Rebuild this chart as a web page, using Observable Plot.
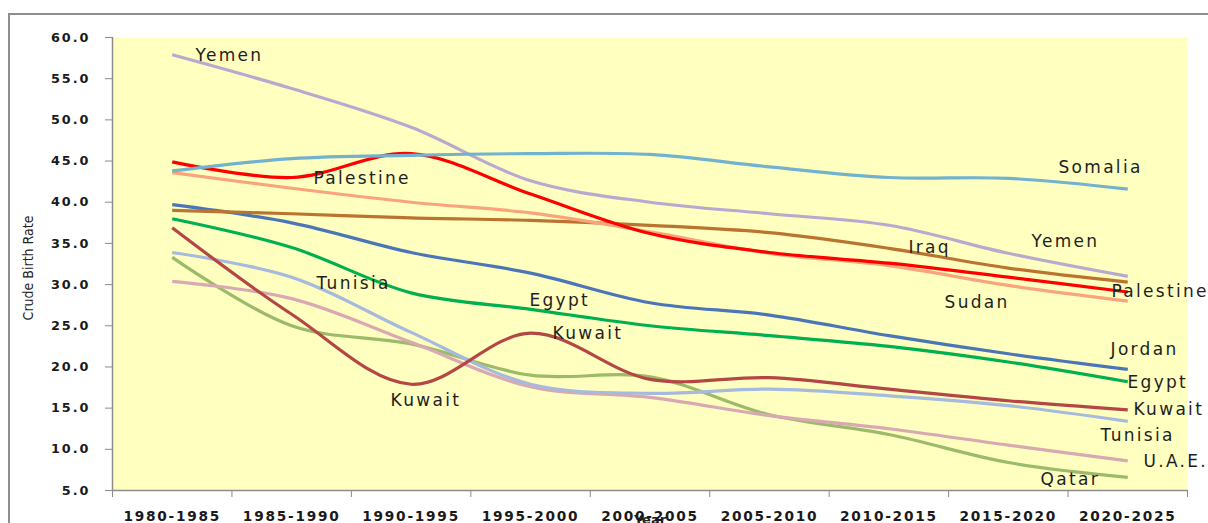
<!DOCTYPE html>
<html>
<head>
<meta charset="utf-8">
<script src="https://cdn.jsdelivr.net/npm/d3@7"></script>
<script src="https://cdn.jsdelivr.net/npm/@observablehq/plot@0.6"></script>
<style>
html, body { margin: 0; padding: 0; background: #fff; overflow: hidden; }
#wrap { position: relative; width: 1208px; height: 523px; overflow: hidden; }
#border { position: absolute; left: 8px; top: 13px; width: 1400px; height: 700px; border: 2px solid #8e8e8e; pointer-events: none; }
#chart { position: absolute; left: 0; top: 0; }
#chart svg g[aria-label="text"][font-size="17"] { letter-spacing: 2.3px; }
#chart svg g[aria-label="y-axis tick label"] { letter-spacing: 2px; }
#chart svg g[aria-label="x-axis tick label"] { letter-spacing: 1.75px; }
</style>
</head>
<body>
<div id="wrap"><div id="chart"></div><div id="border"></div></div>
<script>
// ---- data ----
const periods = ["1980-1985","1985-1990","1990-1995","1995-2000","2000-2005","2005-2010","2010-2015","2015-2020","2020-2025"];
const countries = ["Qatar","U.A.E.","Tunisia","Kuwait","Egypt","Jordan","Iraq","Sudan","Yemen","Palestine","Somalia"];

const qatar     = [33.3, 25.0, 22.8, 19.0, 18.8, 14.2, 11.8, 8.4, 6.6];
const uae       = [30.4, 28.3, 23.0, 17.6, 16.3, 14.1, 12.5, 10.5, 8.6];
const tunisia   = [33.9, 30.9, 24.2, 17.9, 16.8, 17.3, 16.5, 15.3, 13.4];
const kuwait    = [36.9, 26.4, 17.9, 24.1, 18.5, 18.7, 17.3, 15.9, 14.8];
const egypt     = [38.0, 34.5, 29.0, 27.0, 25.0, 23.8, 22.5, 20.6, 18.2];
const jordan    = [39.7, 37.5, 33.9, 31.4, 27.8, 26.3, 23.8, 21.6, 19.7];
const iraq      = [39.0, 38.6, 38.1, 37.8, 37.2, 36.3, 34.4, 32.0, 30.3];
const sudan     = [43.6, 41.7, 40.0, 38.7, 36.4, 33.8, 32.3, 29.9, 28.0];
const yemen     = [57.9, 53.8, 49.1, 42.6, 40.0, 38.6, 37.2, 33.8, 31.0];
const palestine = [44.9, 43.0, 45.9, 41.0, 36.2, 33.9, 32.6, 30.9, 29.1];
const somalia   = [43.8, 45.3, 45.7, 45.9, 45.8, 44.3, 43.0, 42.9, 41.6];

const seriesValues = [qatar, uae, tunisia, kuwait, egypt, jordan, iraq, sudan, yemen, palestine, somalia];

const yTicks = [5, 10, 15, 20, 25, 30, 35, 40, 45, 50, 55, 60];

// annotation labels: text, anchor along the period axis (index units), value
const labelText  = ["Yemen","Palestine","Tunisia","Egypt","Kuwait","Kuwait","Iraq","Yemen","Somalia","Sudan","Palestine","Jordan","Egypt","Kuwait","Tunisia","U.A.E.","Qatar"];
const labelAt    = [0.695, 1.683, 1.708, 3.491, 3.684, 2.328, 6.664, 7.694, 7.920, 6.966, 8.364, 8.356, 8.498, 8.548, 8.272, 8.632, 7.770];
const labelValue = [57.8, 42.9, 30.1, 28.1, 24.1, 15.9, 34.5, 35.2, 44.2, 27.8, 29.2, 22.1, 18.1, 14.8, 11.7, 8.5, 6.3];

// ---- build tables ----
const rows = countries.flatMap((c, k) => seriesValues[k].map((v, i) => ({country: c, i: i + 0.5, v})));
const labels = labelText.map((t, k) => ({t, x: labelAt[k], y: labelValue[k]}));
const boundaries = d3.range(periods.length + 1);
const centers = periods.map((p, i) => i + 0.5);

const lineColors = ["#9bbb6a","#d9a8b2","#a6b9de","#b44646","#00b050","#4a76b8","#bb7430","#f9a47c","#b8a9cf","#ff0000","#72b2cf"];

const chart = Plot.plot({
  width: 1208,
  height: 523,
  marginLeft: 112,
  marginRight: 21,
  marginTop: 37,
  marginBottom: 33,
  style: {background: "transparent", fontFamily: "DejaVu Sans, sans-serif"},
  x: {type: "linear", domain: [0, periods.length], axis: null},
  y: {domain: [5, 60], axis: null},
  color: {domain: countries, range: lineColors},
  marks: [
    Plot.frame({fill: "#ffffc0", stroke: null}),
    Plot.ruleX([0], {stroke: "#8c8c8c", strokeWidth: 1.5}),
    Plot.ruleY([5], {stroke: "#8c8c8c", strokeWidth: 1.5}),
    Plot.line(rows, {x: "i", y: "v", z: "country", stroke: "country", curve: "catmull-rom", strokeWidth: 3.2, strokeLinecap: "butt"}),
    Plot.text(labels, {x: "x", y: "y", text: "t", textAnchor: "start", lineAnchor: "middle", fontSize: 17, fill: "#1e1e1e", fontFamily: "DejaVu Sans, sans-serif"}),
    Plot.text(["Year"], {text: d => d, frameAnchor: "bottom", lineAnchor: "top", dy: 24, fontSize: 13, fontWeight: "bold", fill: "#222"}),
    Plot.text(["Crude Birth Rate"], {text: d => d, frameAnchor: "left", textAnchor: "middle", dx: -84, dy: 4, rotate: -90, fontSize: 14, fill: "#222", fontFamily: "Liberation Sans Narrow, DejaVu Sans Condensed, sans-serif"}),
    Plot.axisY({ticks: yTicks, tickFormat: d => d.toFixed(1), tickSize: 7, tickPadding: 15, fontSize: 12.8, fontWeight: "bold", fill: "#1a1a1a", stroke: "#8c8c8c", label: null}),
    Plot.axisX({ticks: boundaries, tickFormat: () => "", tickSize: 7, stroke: "#8c8c8c", label: null}),
    Plot.axisX({ticks: centers, tickFormat: d => periods[Math.floor(d)], tickSize: 0, tickPadding: 20.5, fontSize: 13.7, fontWeight: "bold", fill: "#1a1a1a", label: null})
  ]
});
document.getElementById("chart").appendChild(chart);
</script>
</body>
</html>
